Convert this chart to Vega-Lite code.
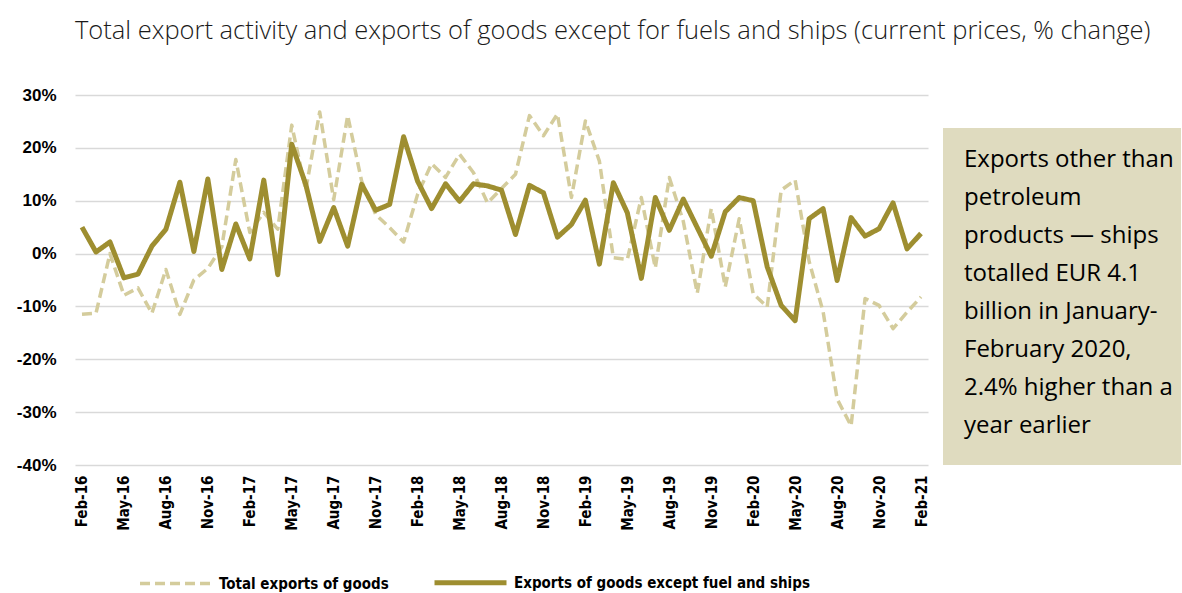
{
  "$schema": "https://vega.github.io/schema/vega-lite/v6.json",
  "padding": {"left": 16, "top": 19, "right": 0, "bottom": 0},
  "background": "#ffffff",
  "title": {
    "text": "Total export activity and exports of goods except for fuels and ships (current prices, % change)",
    "font": "Open Sans",
    "fontSize": 25.5,
    "fontWeight": 300,
    "color": "#1a1a1a",
    "anchor": "middle",
    "dx": 14,
    "offset": 41.5
  },
  "spacing": 13,
  "config": {
    "view": {"stroke": null},
    "axis": {"domain": false, "ticks": false}
  },
  "hconcat": [
    {
      "width": 853,
      "height": 370,
      "data": {
        "values": [
          {"month": "Feb-16", "total": -11.5, "core": 5.0},
          {"month": "Mar-16", "total": -11.3, "core": 0.3},
          {"month": "Apr-16", "total": 0.0, "core": 2.2},
          {"month": "May-16", "total": -7.9, "core": -4.6},
          {"month": "Jun-16", "total": -6.5, "core": -3.9},
          {"month": "Jul-16", "total": -11.3, "core": 1.4},
          {"month": "Aug-16", "total": -3.0, "core": 4.6},
          {"month": "Sep-16", "total": -11.5, "core": 13.5},
          {"month": "Oct-16", "total": -5.0, "core": 0.4},
          {"month": "Nov-16", "total": -2.8, "core": 14.1},
          {"month": "Dec-16", "total": 1.3, "core": -3.0},
          {"month": "Jan-17", "total": 17.8, "core": 5.6},
          {"month": "Feb-17", "total": 4.0, "core": -1.0},
          {"month": "Mar-17", "total": 7.8, "core": 13.9},
          {"month": "Apr-17", "total": 4.6, "core": -4.0},
          {"month": "May-17", "total": 24.3, "core": 20.7},
          {"month": "Jun-17", "total": 12.0, "core": 13.1},
          {"month": "Jul-17", "total": 26.8, "core": 2.3},
          {"month": "Aug-17", "total": 10.2, "core": 8.7},
          {"month": "Sep-17", "total": 26.1, "core": 1.4},
          {"month": "Oct-17", "total": 13.7, "core": 13.1},
          {"month": "Nov-17", "total": 7.4, "core": 8.2},
          {"month": "Dec-17", "total": 4.9, "core": 9.3},
          {"month": "Jan-18", "total": 2.2, "core": 22.1},
          {"month": "Feb-18", "total": 11.2, "core": 13.7},
          {"month": "Mar-18", "total": 17.0, "core": 8.5},
          {"month": "Apr-18", "total": 14.4, "core": 13.2},
          {"month": "May-18", "total": 18.8, "core": 9.9},
          {"month": "Jun-18", "total": 15.3, "core": 13.2},
          {"month": "Jul-18", "total": 9.6, "core": 12.8},
          {"month": "Aug-18", "total": 12.3, "core": 12.0},
          {"month": "Sep-18", "total": 15.0, "core": 3.6},
          {"month": "Oct-18", "total": 26.1, "core": 12.9},
          {"month": "Nov-18", "total": 22.3, "core": 11.5},
          {"month": "Dec-18", "total": 26.4, "core": 3.1},
          {"month": "Jan-19", "total": 10.6, "core": 5.5},
          {"month": "Feb-19", "total": 25.1, "core": 10.1},
          {"month": "Mar-19", "total": 17.5, "core": -2.0},
          {"month": "Apr-19", "total": -0.8, "core": 13.4},
          {"month": "May-19", "total": -1.1, "core": 7.7},
          {"month": "Jun-19", "total": 10.6, "core": -4.7},
          {"month": "Jul-19", "total": -2.7, "core": 10.6},
          {"month": "Aug-19", "total": 14.4, "core": 4.4},
          {"month": "Sep-19", "total": 6.1, "core": 10.3},
          {"month": "Oct-19", "total": -7.5, "core": 4.9},
          {"month": "Nov-19", "total": 8.5, "core": -0.5},
          {"month": "Dec-19", "total": -6.3, "core": 7.9},
          {"month": "Jan-20", "total": 6.6, "core": 10.6},
          {"month": "Feb-20", "total": -7.6, "core": 10.0},
          {"month": "Mar-20", "total": -10.1, "core": -2.5},
          {"month": "Apr-20", "total": 12.0, "core": -9.8},
          {"month": "May-20", "total": 13.9, "core": -12.7},
          {"month": "Jun-20", "total": -1.5, "core": 6.6},
          {"month": "Jul-20", "total": -11.0, "core": 8.5},
          {"month": "Aug-20", "total": -27.5, "core": -5.1},
          {"month": "Sep-20", "total": -32.6, "core": 6.8},
          {"month": "Oct-20", "total": -8.5, "core": 3.3},
          {"month": "Nov-20", "total": -9.8, "core": 4.7},
          {"month": "Dec-20", "total": -14.2, "core": 9.6},
          {"month": "Jan-21", "total": -11.1, "core": 0.9},
          {"month": "Feb-21", "total": -8.2, "core": 3.8}
        ]
      },
      "transform": [{"fold": ["total", "core"], "as": ["series", "value"]}],
      "mark": {"type": "line", "strokeJoin": "round"},
      "encoding": {
        "x": {
          "field": "month",
          "type": "ordinal",
          "sort": null,
          "scale": {"type": "point", "padding": 0.5},
          "axis": {
            "title": null,
            "values": ["Feb-16", "May-16", "Aug-16", "Nov-16", "Feb-17", "May-17", "Aug-17", "Nov-17", "Feb-18", "May-18", "Aug-18", "Nov-18", "Feb-19", "May-19", "Aug-19", "Nov-19", "Feb-20", "May-20", "Aug-20", "Nov-20", "Feb-21"],
            "labelAngle": -90,
            "labelAlign": "right",
            "labelBaseline": "middle",
            "labelPadding": 10,
            "labelFont": "Liberation Sans Narrow, Arial Narrow, DejaVu Sans Condensed, sans-serif",
            "labelFontWeight": "bold",
            "labelFontSize": 15,
            "labelColor": "#000000",
            "grid": false
          }
        },
        "y": {
          "field": "value",
          "type": "quantitative",
          "scale": {"domain": [-40, 30], "nice": false},
          "axis": {
            "title": null,
            "values": [-40, -30, -20, -10, 0, 10, 20, 30],
            "labelExpr": "datum.value + '%'",
            "labelFont": "Liberation Sans, Arial, sans-serif",
            "labelFontWeight": "bold",
            "labelFontSize": 17,
            "labelColor": "#000000",
            "labelPadding": 19,
            "grid": true,
            "gridColor": "#d9d9d9",
            "gridWidth": 1.5
          }
        },
        "color": {
          "field": "series",
          "type": "nominal",
          "scale": {"domain": ["total", "core"], "range": ["#d4cc9c", "#9e8e30"]},
          "legend": {
            "orient": "none", "legendX": 63, "legendY": 449, "direction": "horizontal", "title": null,
            "symbolType": "stroke", "symbolSize": 5184, "columnPadding": 35, "labelOffset": 5,
            "labelFont": "Liberation Sans Narrow, Arial Narrow, DejaVu Sans Condensed, sans-serif",
            "labelFontWeight": "bold", "labelFontSize": 15, "labelColor": "#000000", "labelLimit": 400,
            "labelExpr": "datum.value == 'total' ? 'Total exports of goods' : 'Exports of goods except fuel and ships'"
          }
        },
        "strokeDash": {
          "field": "series",
          "type": "nominal",
          "scale": {"domain": ["total", "core"], "range": [[10, 5], [1, 0]]},
          "legend": {
            "orient": "none", "legendX": 63, "legendY": 449, "direction": "horizontal", "title": null,
            "symbolType": "stroke", "symbolSize": 5184, "columnPadding": 35, "labelOffset": 5,
            "labelFont": "Liberation Sans Narrow, Arial Narrow, DejaVu Sans Condensed, sans-serif",
            "labelFontWeight": "bold", "labelFontSize": 15, "labelColor": "#000000", "labelLimit": 400,
            "labelExpr": "datum.value == 'total' ? 'Total exports of goods' : 'Exports of goods except fuel and ships'"
          }
        },
        "strokeWidth": {
          "field": "series",
          "type": "nominal",
          "scale": {"domain": ["total", "core"], "range": [3.5, 5]},
          "legend": {
            "orient": "none", "legendX": 63, "legendY": 449, "direction": "horizontal", "title": null,
            "symbolType": "stroke", "symbolSize": 5184, "columnPadding": 35, "labelOffset": 5,
            "labelFont": "Liberation Sans Narrow, Arial Narrow, DejaVu Sans Condensed, sans-serif",
            "labelFontWeight": "bold", "labelFontSize": 15, "labelColor": "#000000", "labelLimit": 400,
            "labelExpr": "datum.value == 'total' ? 'Total exports of goods' : 'Exports of goods except fuel and ships'"
          }
        }
      }
    },
    {
      "spacing": 13,
      "vconcat": [
        {
          "width": 238,
          "height": 20,
          "data": {"values": [{"note": "spacer"}]},
          "mark": {"type": "text", "text": ""},
          "encoding": {}
        },
        {
          "width": 238,
          "height": 337,
          "view": {"fill": "#dfdbbf", "stroke": null},
          "data": {"values": [{"note": "annotation"}]},
          "mark": {
            "type": "text",
            "text": ["Exports other than", "petroleum", "products — ships", "totalled EUR 4.1", "billion in January-", "February 2020,", "2.4% higher than a", "year earlier"],
            "align": "left",
            "baseline": "middle",
            "font": "Open Sans",
            "fontSize": 24,
            "lineHeight": 38,
            "color": "#000000",
            "dx": -98,
            "dy": -136.5
          },
          "encoding": {}
        }
      ]
    }
  ]
}
